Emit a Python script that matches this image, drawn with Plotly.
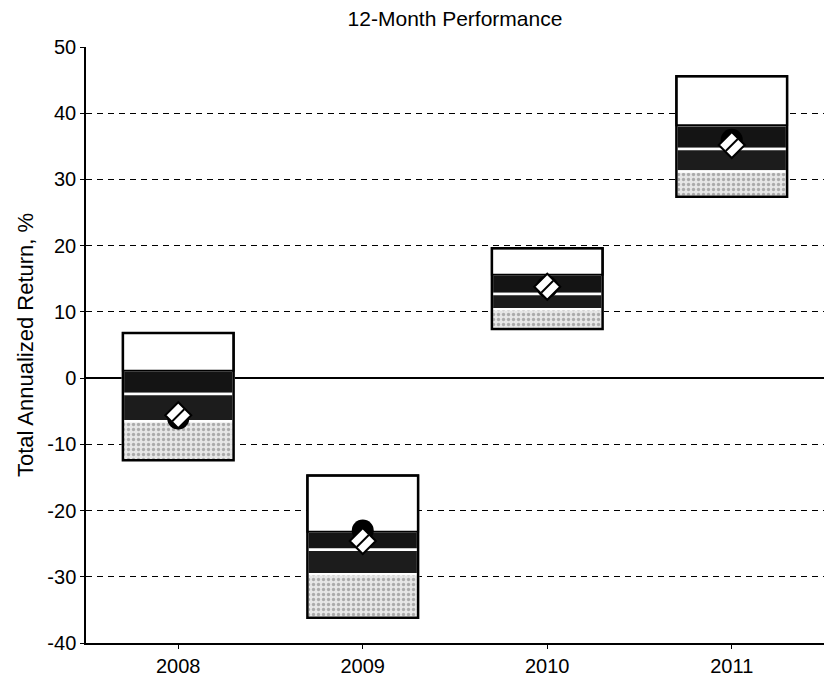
import plotly.graph_objects as go

# Calendar years shown on the x axis
years = ["2008", "2009", "2010", "2011"]

# Peer-group return range per year (%), from the top of the box down
box_top = [6.8, -14.7, 19.6, 45.6]
upper_quartile = [1.1, -23.2, 15.6, 38.2]
median_return = [-2.4, -25.9, 12.7, 34.6]
lower_quartile = [-6.5, -29.6, 10.4, 31.2]
box_bottom = [-12.4, -36.2, 7.4, 27.4]

# Fund and index returns (%)
fund_return = [-6.1, -23.0, 13.8, 36.0]
index_return = [-5.6, -24.6, 13.8, 35.2]

y_ticks = [-40, -30, -20, -10, 0, 10, 20, 30, 40, 50]
y_tick_labels = ["-40", "-30", "-20", "-10", "0", "10", "20", "30", "40", "50"]

FONT = "Liberation Sans, Arial, sans-serif"
BAR_W = 0.6

fig = go.Figure()


def band(top, bottom, fill, edge="white", edge_w=2.5, pattern=None):
    fig.add_trace(go.Bar(
        x=years,
        base=bottom,
        y=[t - b for t, b in zip(top, bottom)],
        width=BAR_W,
        marker=dict(color=fill, line=dict(color=edge, width=edge_w),
                    pattern=pattern),
        hoverinfo="skip",
        showlegend=False,
    ))


# Quartile bands: middle two dark, bottom speckled grey
band(upper_quartile, median_return, "#141414")
band(median_return, lower_quartile, "#1c1c1c")
band(lower_quartile, box_bottom, "#d8d8d8",
     pattern=dict(shape=".", fgcolor="#707070", bgcolor="#e6e6e6",
                  size=5, solidity=0.35))
# Top quartile white with a black edge, drawn last so its lower edge shows
band(box_top, upper_quartile, "white", edge="black", edge_w=2)

# Outline around each year's full range
fig.add_trace(go.Bar(
    x=years,
    base=box_bottom,
    y=[t - b for t, b in zip(box_top, box_bottom)],
    width=BAR_W,
    marker=dict(color="rgba(0,0,0,0)", line=dict(color="black", width=2.5)),
    hoverinfo="skip",
    showlegend=False,
))

# Fund return (filled circle)
fig.add_trace(go.Scatter(
    x=years, y=fund_return, mode="markers",
    marker=dict(symbol="circle", size=22, color="black",
                line=dict(color="black", width=0)),
    showlegend=False,
))

# Index return (hatched diamond)
fig.add_trace(go.Scatter(
    x=years, y=index_return, mode="markers",
    marker=dict(symbol="diamond", size=20, color="white",
                line=dict(color="black", width=2)),
    showlegend=False,
))
fig.add_trace(go.Scatter(
    x=years, y=index_return, mode="markers",
    marker=dict(symbol="line-ne", size=12, line=dict(color="black", width=2)),
    showlegend=False,
))

fig.update_layout(
    width=824, height=680,
    margin=dict(l=86, r=0, t=47, b=37),
    paper_bgcolor="white",
    plot_bgcolor="white",
    barmode="overlay",
    font=dict(family=FONT, size=20, color="black"),
    title=dict(text="12-Month Performance", x=0.5, xref="paper",
               y=0.983, yanchor="top",
               font=dict(family=FONT, size=21, color="black")),
    xaxis=dict(
        type="category",
        range=[-0.5, 3.5],
        showgrid=False,
        showline=True, linecolor="black", linewidth=1.5,
        ticks="outside", ticklen=4, tickcolor="black",
        tickfont=dict(family=FONT, size=20),
        zeroline=False,
    ),
    yaxis=dict(
        range=[-40, 50],
        tickvals=y_ticks,
        ticktext=y_tick_labels,
        showgrid=True, gridcolor="black", gridwidth=1.2,
        griddash="6px,5px",
        zeroline=True, zerolinecolor="black", zerolinewidth=1.5,
        showline=True, linecolor="black", linewidth=1.5,
        ticks="outside", ticklen=4, tickcolor="black",
        tickfont=dict(family=FONT, size=20),
        title=dict(text="Total Annualized Return, %", standoff=8,
                   font=dict(family=FONT, size=22)),
    ),
)

fig.write_html("out.html")
